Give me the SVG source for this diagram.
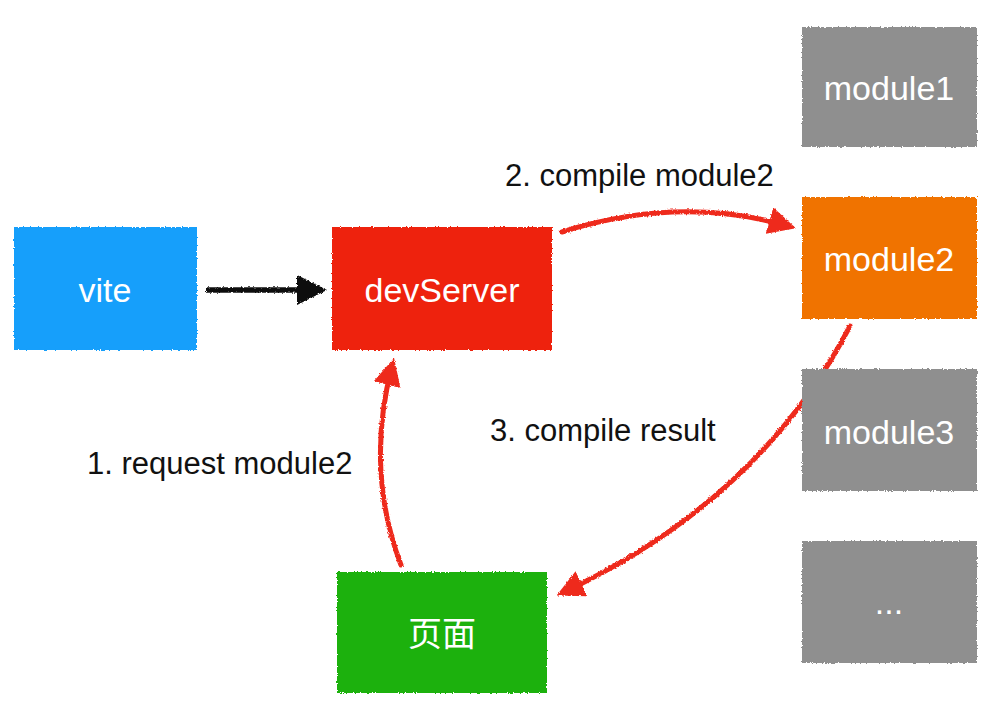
<svg xmlns="http://www.w3.org/2000/svg" width="994" height="718" viewBox="0 0 994 718">
<style>
.box{stroke:none}
.lbl{font-family:"Liberation Sans","Noto Sans CJK SC",Arial,sans-serif;font-size:34px;fill:#ffffff;text-anchor:middle}
.cap{font-family:"Liberation Sans",Arial,sans-serif;font-size:31px;fill:#111111}
.red{fill:none;stroke:#ee2a1e;stroke-width:5;stroke-linecap:round}
</style>
<defs>
<filter id="rough" x="-5%" y="-5%" width="110%" height="110%">
<feTurbulence type="fractalNoise" baseFrequency="0.6" numOctaves="2" seed="3" result="n"/>
<feDisplacementMap in="SourceGraphic" in2="n" scale="3" xChannelSelector="R" yChannelSelector="G"/>
</filter>
<marker id="ahRed" viewBox="0 0 10 10" refX="7" refY="5" markerWidth="5.5" markerHeight="5.5" orient="auto" markerUnits="strokeWidth">
<path d="M0,0 L10,5 L0,10 z" fill="#ee2a1e"/>
</marker>
<marker id="ahBlack" viewBox="0 0 10 10" refX="7" refY="5" markerWidth="5.5" markerHeight="5.5" orient="auto" markerUnits="strokeWidth">
<path d="M0,0 L10,5 L0,10 z" fill="#111111"/>
</marker>
</defs>
<rect width="994" height="718" fill="#ffffff"/>
<g id="connectors" filter="url(#rough)">
<path d="M206,290 L318,290" fill="none" stroke="#111111" stroke-width="5.5" marker-end="url(#ahBlack)"/>
<path class="red" d="M562,232 Q680,195 788,226" marker-end="url(#ahRed)"/>
<path class="red" d="M401,565 Q365,470 392,366" marker-end="url(#ahRed)"/>
<path class="red" d="M850,326 Q760,500 564,592" marker-end="url(#ahRed)"/>
</g>
<g id="vite"><rect class="box" x="14" y="227" width="183" height="123" fill="#149ffb" filter="url(#rough)"/><text class="lbl" x="105" y="302">vite</text></g>
<g id="devServer"><rect class="box" x="332" y="227" width="220" height="123" fill="#ee2210" filter="url(#rough)"/><text class="lbl" x="442" y="302">devServer</text></g>
<g id="page"><rect class="box" x="337" y="572" width="210" height="121" fill="#1fb10f" filter="url(#rough)"/><text class="lbl" x="442" y="646">页面</text></g>
<g id="module1"><rect class="box" x="802" y="27" width="175" height="120" fill="#8f8f8f" filter="url(#rough)"/><text class="lbl" x="889" y="100">module1</text></g>
<g id="module2"><rect class="box" x="802" y="197" width="175" height="122" fill="#f07300" filter="url(#rough)"/><text class="lbl" x="889" y="271">module2</text></g>
<g id="module3"><rect class="box" x="802" y="369" width="175" height="122" fill="#8f8f8f" filter="url(#rough)"/><text class="lbl" x="889" y="444">module3</text></g>
<g id="more"><rect class="box" x="802" y="541" width="175" height="122" fill="#8f8f8f" filter="url(#rough)"/><text class="lbl" x="889" y="614">...</text></g>
<g id="labels">
<text class="cap" x="505" y="186">2. compile module2</text>
<text class="cap" x="490" y="441">3. compile result</text>
<text class="cap" x="87" y="474">1. request module2</text>
</g>
</svg>
